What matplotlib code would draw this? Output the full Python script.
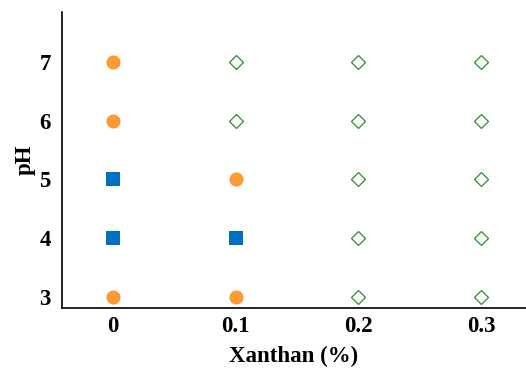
import matplotlib.pyplot as plt

# Xanthan (%) x pH grid, three classes of result
xanthan_circle = [0, 0, 0, 0.1, 0.1]
ph_circle = [7, 6, 3, 5, 3]

xanthan_square = [0, 0, 0.1]
ph_square = [5, 4, 4]

xanthan_diamond = [0.1, 0.1, 0.2, 0.2, 0.2, 0.2, 0.2, 0.3, 0.3, 0.3, 0.3, 0.3]
ph_diamond = [7, 6, 7, 6, 5, 4, 3, 7, 6, 5, 4, 3]

x_ticks = [0, 0.1, 0.2, 0.3]
x_labels = ['0', '0.1', '0.2', '0.3']
y_ticks = [3, 4, 5, 6, 7]

plt.rcParams['font.family'] = ['Liberation Serif', 'DejaVu Serif']
plt.rcParams['font.weight'] = 'bold'

fig = plt.figure(figsize=(5.26, 3.68), dpi=100)
ax = fig.add_axes([62 / 526, 60 / 368, 1 - 62 / 526, 296 / 368])

ax.plot(xanthan_circle, ph_circle, 'o', color='#ff9933', markersize=10.2,
        markeredgewidth=0, linestyle='none')
ax.plot(xanthan_square, ph_square, 's', color='#0070c0', markersize=10,
        markeredgewidth=0, linestyle='none')
ax.plot(xanthan_diamond, ph_diamond, 'D', markerfacecolor='none',
        markeredgecolor='#2e8b2e', markersize=7.6, markeredgewidth=0.9,
        linestyle='none')

ax.set_xlim(-0.0416, 0.3367)
ax.set_ylim(2.81, 7.85)
ax.set_xticks(x_ticks)
ax.set_xticklabels(x_labels)
ax.set_yticks(y_ticks)
ax.tick_params(length=0, labelsize=16.5)
ax.tick_params(axis='x', pad=6)
ax.tick_params(axis='y', pad=8)
for lab in ax.get_xticklabels() + ax.get_yticklabels():
    lab.set_fontweight('bold')

ax.spines['top'].set_visible(False)
ax.spines['right'].set_visible(False)
ax.spines['left'].set_linewidth(1.2)
ax.spines['bottom'].set_linewidth(1.2)

ax.set_xlabel('Xanthan (%)', fontsize=16.5, fontweight='bold', labelpad=6)
ax.set_ylabel('pH', fontsize=16.5, fontweight='bold', labelpad=3)

fig.savefig('out.png', dpi=100)
